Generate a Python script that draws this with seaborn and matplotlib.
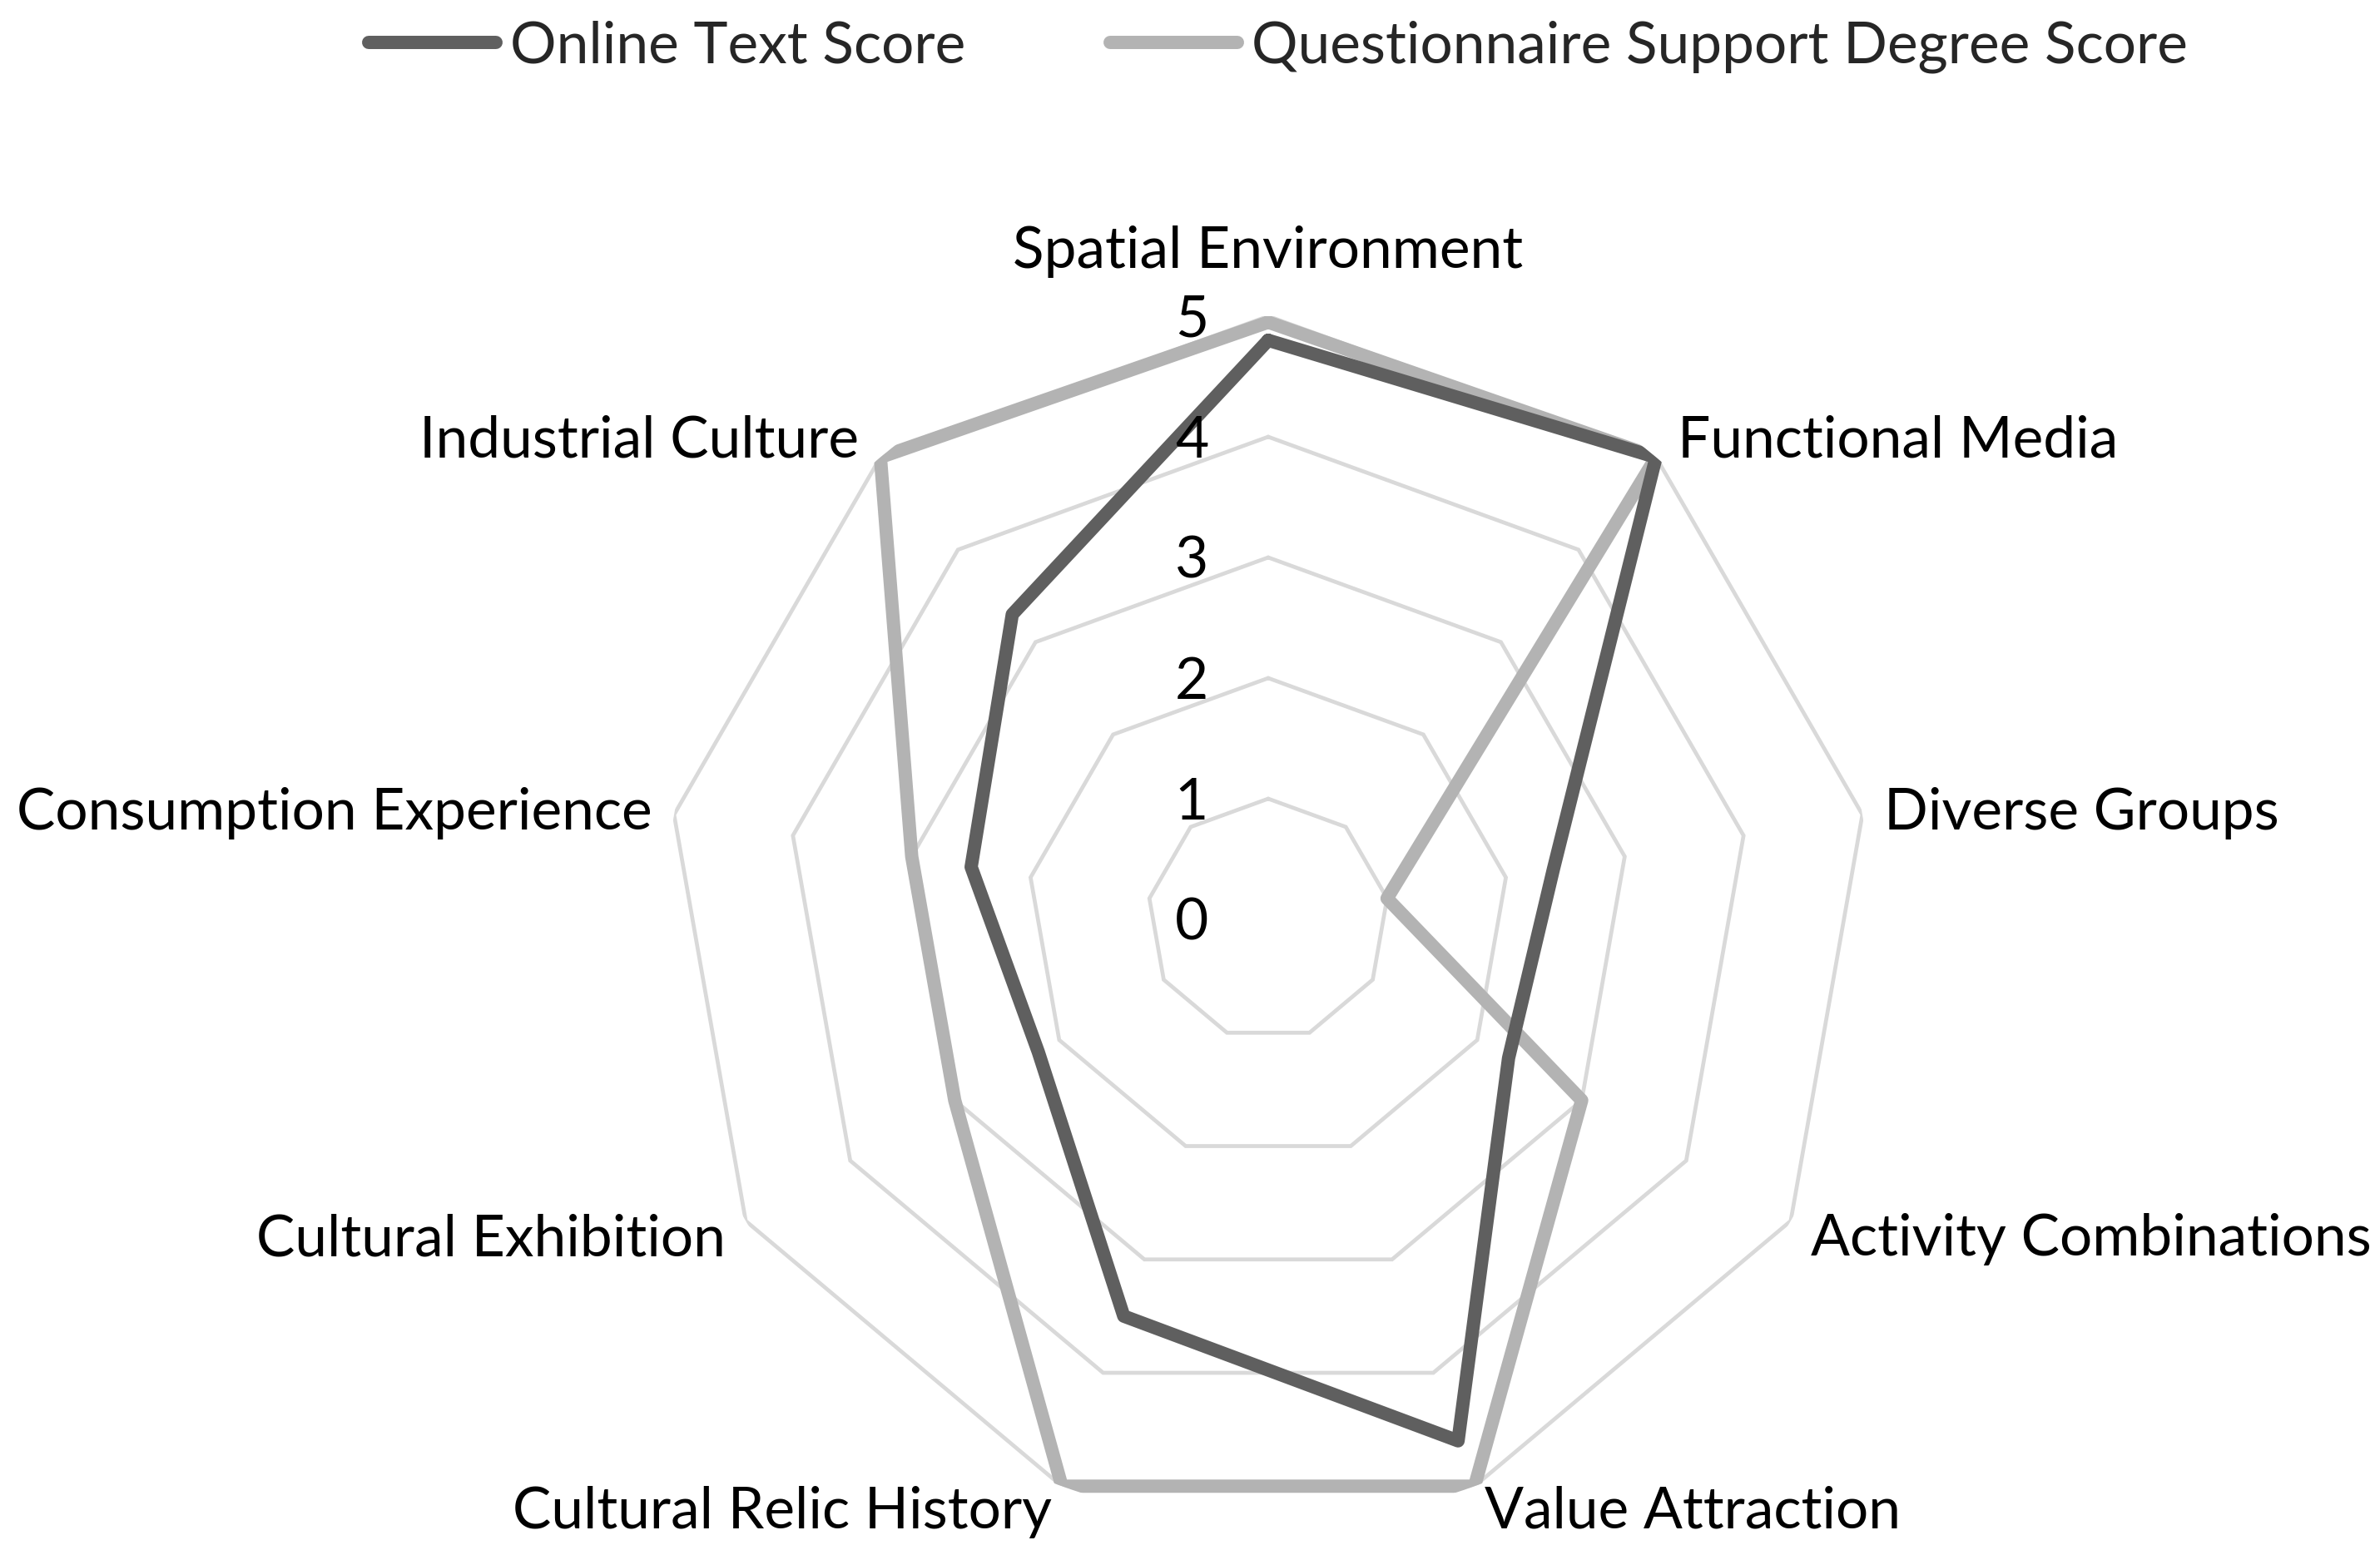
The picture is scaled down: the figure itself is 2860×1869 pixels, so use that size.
import numpy as np
import pandas as pd
import matplotlib
matplotlib.use("Agg")
import matplotlib.pyplot as plt
import seaborn as sns
from matplotlib.lines import Line2D

# ---- data ----
categories = ["Spatial Environment", "Functional Media", "Diverse Groups",
              "Activity Combinations", "Value Attraction", "Cultural Relic History",
              "Cultural Exhibition", "Consumption Experience", "Industrial Culture"]
online_text = [4.8, 5.0, 2.4, 2.3, 4.6, 3.5, 2.2, 2.5, 3.3]
questionnaire = [4.95, 5.0, 1.0, 3.0, 5.0, 5.0, 3.0, 3.0, 5.0]
series_names = ["Online Text Score", "Questionnaire Support Degree Score"]
tick_values = [0, 1, 2, 3, 4, 5]

sns.set_theme(style="white")
plt.rcParams["font.family"] = ["Lato", "DejaVu Sans"]

FS = 50
dark = "#5f5f5f"
light = "#b3b3b3"
gridc = "#d9d9d9"

n = len(categories)
angles = np.linspace(0, 2 * np.pi, n, endpoint=False)
ang_closed = np.concatenate([angles, [2 * np.pi]])

rows = []
for name, vals in zip(series_names, [online_text, questionnaire]):
    closed = list(vals) + [vals[0]]
    for i, (a, v) in enumerate(zip(ang_closed, closed)):
        rows.append({"theta": a, "score": v, "series": name, "order": i})
df = pd.DataFrame(rows)

fig = plt.figure(figsize=(28.6, 18.69), dpi=100)
W, H = 2860, 1869
cx, cy, R = 1524, 1105, 725
ax = fig.add_axes([(cx - R) / W, (H - cy - R) / H, 2 * R / W, 2 * R / H], projection="polar")
ax.set_theta_zero_location("N")
ax.set_theta_direction(-1)
ax.set_ylim(0, 5)
ax.grid(False)
ax.spines["polar"].set_visible(False)
ax.set_xticks([])
ax.set_yticks([])
ax.patch.set_alpha(0)

# ring gridlines (straight-edged polygons)
for k in tick_values[1:]:
    ax.plot(ang_closed, [k] * len(ang_closed), color=gridc, lw=3.4, zorder=1,
            solid_joinstyle="miter")

sns.lineplot(data=df, x="theta", y="score", hue="series", sort=False, estimator=None,
             palette={series_names[0]: dark, series_names[1]: light},
             hue_order=series_names[::-1], units="series",
             lw=11.5, ax=ax, legend=False, zorder=3)
for ln in ax.lines[-2:]:
    ln.set_solid_joinstyle("round")
    ln.set_solid_capstyle("round")
ax.set_xlabel("")
ax.set_ylabel("")
ax.set_xticks([])
ax.set_yticks([])
ax.set_ylim(0, 5)

# category labels
for a, lab in zip(angles, categories):
    deg = np.degrees(a)
    if deg < 1:
        ax.annotate(lab, xy=(a, 5), xytext=(0, 78), textcoords="offset pixels",
                    ha="center", va="center", fontsize=FS, color="black")
    elif deg < 90:
        ax.annotate(lab, xy=(a, 5), xytext=(26, 20 if deg < 60 else 2), textcoords="offset pixels",
                    ha="left", va="center", fontsize=FS, color="black")
    elif deg < 180:
        ax.annotate(lab, xy=(a, 5), xytext=(24 if deg < 150 else 12, -22 if deg < 150 else -31),
                    textcoords="offset pixels", ha="left", va="center", fontsize=FS, color="black")
    elif deg < 270:
        ax.annotate(lab, xy=(a, 5), xytext=(-24 if deg > 210 else -12, -22 if deg > 210 else -31),
                    textcoords="offset pixels", ha="right", va="center", fontsize=FS, color="black")
    else:
        ax.annotate(lab, xy=(a, 5), xytext=(-26, 20 if deg > 300 else 2), textcoords="offset pixels",
                    ha="right", va="center", fontsize=FS, color="black")

# radial tick labels
for k in tick_values:
    ax.annotate(str(k), xy=(0, k), xytext=(-72, -5), textcoords="offset pixels",
                ha="right", va="center", fontsize=FS, color="black")

handles = [Line2D([0], [0], color=dark, lw=11.5, solid_capstyle="round"),
           Line2D([0], [0], color=light, lw=11.5, solid_capstyle="round")]
fig.legend(handles, series_names, loc="center", bbox_to_anchor=(0.537, 1 - 56 / H),
           ncol=2, frameon=False, fontsize=FS, handlelength=2.2, handletextpad=0.25,
           columnspacing=2.5)

fig.savefig("out.png", dpi=100, facecolor="white")
